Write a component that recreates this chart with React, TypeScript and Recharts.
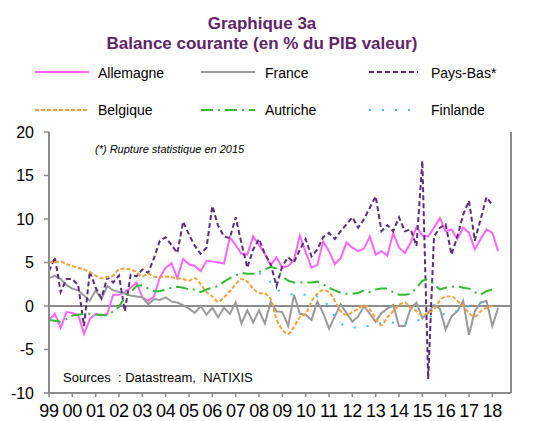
import { LineChart, Line, XAxis, YAxis, ReferenceLine } from "recharts"

// tick labels (one per year, quarterly data)
const years = ["99", "00", "01", "02", "03", "04", "05", "06", "07", "08", "09", "10", "11", "12", "13", "14", "15", "16", "17", "18"]

const allemagne = [
  -1.6, -0.9, -2.5, -0.7, -0.8, -1.0, -3.2, -1.5, -0.9, -1.1,
  -0.9, 1.3, 1.3, 1.6, 2.1, 2.7, 1.0, 0.6, 1.1, 3.3,
  4.4, 4.9, 3.2, 5.4, 4.8, 4.6, 4.0, 5.2, 5.1, 5.0,
  4.9, 7.9, 7.0, 6.0, 5.9, 8.0, 7.0, 6.0, 4.7, 5.6,
  4.4, 4.6, 5.3, 8.1, 6.2, 4.4, 4.7, 7.4, 6.3, 4.8,
  5.5, 7.3, 6.7, 6.3, 6.6, 8.0, 5.9, 6.3, 5.8, 8.4,
  6.7, 6.1, 7.3, 9.1, 8.1, 8.0, 9.0, 10.1, 8.6, 8.8,
  7.7, 9.0, 8.4, 6.5, 7.7, 8.8, 8.4, 6.3,
]

const france = [
  3.2, 3.5, 3.1, 2.4, 2.0, 1.8, 1.2, 0.6, 1.8, 0.8,
  2.3, 1.8, 1.6, 1.4, 1.2, 1.1, 1.0, 0.2, 0.8, 0.7,
  1.0, 0.5, 0.4, 0.1, -0.3, -0.8, 0.0, -1.0, -0.2, -1.3,
  -0.2, -0.9, 0.4, -2.0, -0.5, -1.9, -0.5, -2.0, 0.5, -0.6,
  -0.7, -2.3, 1.3, -0.9, -1.0, -1.6, 0.5, -0.8, -2.6, -1.2,
  0.2, -0.8, -1.8, -1.2, 0.0, -0.9, -1.8, -0.8, -0.3, 0.1,
  -2.3, -2.3, -0.3, 0.4, -1.4, -0.8, 0.1, -0.3, -2.7, -1.2,
  -0.6, 0.6, -3.3, -0.6, 0.4, 0.6, -2.3, -0.2,
]

const paysBas = [
  4.0, 5.6, 1.6, 3.1, 3.1, 2.4, -2.3, 4.0, 2.1, 0.9,
  3.3, 2.7, 3.5, -0.6, 3.6, 3.4, 4.2, 3.8, 5.5, 7.5,
  7.9, 7.0, 6.1, 9.7, 8.2, 6.9, 6.0, 6.7, 11.5, 9.2,
  8.0, 7.8, 10.2, 7.2, 4.4, 6.5, 7.7, 6.0, 4.8, 2.3,
  4.6, 5.6, 5.0, 6.5, 7.7, 5.7, 6.5, 7.9, 8.4, 7.7,
  8.6, 9.4, 10.2, 9.0, 10.0, 11.3, 12.6, 8.6, 9.3, 8.6,
  10.2, 8.6, 8.8, 6.9, 16.7, -8.4, 8.0, 9.0, 9.4, 5.9,
  8.0, 10.5, 12.1, 7.5, 10.0, 12.5, 11.6, null,
]

const belgique = [
  5.0, 5.1, 5.1, 4.8, 4.6, 4.4, 4.2, 3.9, 3.5, 3.2,
  3.3, 3.5, 4.2, 4.3, 4.2, 3.9, 3.4, 3.7, 3.4, 3.3,
  3.4, 3.3, 3.2, 3.1, 2.9, 3.2, 2.5, 1.6, 1.1, 0.5,
  1.0, 1.7, 2.5, 3.1, 2.8, 2.0, 1.5, 1.4, 0.8, -1.5,
  -2.7, -3.2, -2.4, -1.3, -0.9, 0.5, 1.4, 1.8, 1.6, 0.6,
  -0.6, -1.0, -0.7, -0.3, 0.1, -0.4, -1.4, -2.2, -1.3, -0.6,
  0.1, 0.4, -0.2, -0.6, -1.1, -0.8, -0.4, 0.6, 1.1, 1.1,
  0.6, 0.0, -0.8, -1.2, -0.6, -0.2, 0.0, null,
]

const autriche = [
  -1.6, -1.7, -1.8, -1.5, -1.1, -1.0, -0.9, -0.9, -1.0, -1.0,
  -1.1, -0.6, -0.1, 1.0, 1.6, 2.3, 2.4, 2.0, 1.7, 1.7,
  1.9, 2.1, 2.2, 2.1, 1.9, 1.9, 1.6, 1.9, 2.1, 2.3,
  2.8, 3.2, 3.5, 3.8, 3.7, 3.7, 3.9, 4.2, 4.5, 4.3,
  3.4, 2.9, 2.7, 2.7, 2.7, 2.7, 2.8, 2.5, 2.1, 1.8,
  1.5, 1.4, 1.4, 1.5, 1.8, 1.6, 1.9, 2.0, 2.0, 1.6,
  1.3, 1.3, 1.4, 2.1, 2.9, 3.1, 2.5, 1.9, 2.1, 2.2,
  2.3, 2.1, 2.0, 1.6, 1.3, 1.7, 1.9, null,
]

const finlande = [
  null, null, null, null, null, null, null, null, null, null,
  null, null, null, null, null, null, null, null, null, null,
  null, null, null, null, null, null, null, null, null, null,
  null, null, null, null, null, null, 3.8, 3.3, 2.7, 1.9,
  1.6, 1.4, 1.3, 1.3, 1.3, 1.3, 1.1, 0.9, -0.2, -1.2,
  -2.0, -2.4, -2.5, -2.4, -2.3, -2.3, -2.2, -1.9, -1.9, -1.9,
  -1.9, -2.0, -1.9, -1.7, -1.5, -1.3, -1.1, -1.0, -0.9, -0.7,
  -0.6, -0.3, 0.0, 0.2, 0.4, 0.5, 0.4, null,
]

const yTicks = [-10, -5, 0, 5, 10, 15, 20]

const data = allemagne.map((v, i) => ({
  q: i,
  allemagne: v,
  france: france[i],
  paysBas: paysBas[i],
  belgique: belgique[i],
  autriche: autriche[i],
  finlande: finlande[i],
}))

const xTicks = years.map((_, i) => i * 4)

const FONT = '"Liberation Sans", Arial, sans-serif'
const AXIS = "#8c8c8c"

const series = [
  { key: "allemagne", name: "Allemagne", color: "#ff66ff", dash: undefined, type: "linear" },
  { key: "france", name: "France", color: "#9a9a9a", dash: undefined, type: "linear" },
  { key: "paysBas", name: "Pays-Bas*", color: "#5c2d7a", dash: "5 3", type: "linear" },
  { key: "belgique", name: "Belgique", color: "#f7a13c", dash: "4 2", type: "monotone" },
  { key: "autriche", name: "Autriche", color: "#33bb33", dash: "12 5 2 5", type: "linear" },
  { key: "finlande", name: "Finlande", color: "#33c3f5", dash: "2 11", type: "linear" },
] as const

// legend slots: [line x start, line x end, text x, row center y, text top]
const legendPos = [
  [35, 89, 98, 72, 64.5],
  [201, 255, 265, 72, 64.5],
  [369, 418, 431, 72, 64.5],
  [35, 89, 98, 110, 101.5],
  [201, 255, 265, 110, 101.5],
  [369, 418, 431, 110, 101.5],
]

export default function App() {
  return (
    <div style={{ position: "absolute", left: 0, top: 0, width: 552, height: 421, background: "#fff", fontFamily: FONT }}>
      <LineChart
        width={552}
        height={421}
        data={data}
        margin={{ top: 132, right: 0, bottom: 0, left: 0 }}
      >
        <XAxis
          dataKey="q"
          type="number"
          domain={[0, 79.2]}
          ticks={xTicks}
          tickFormatter={(v) => years[Math.round(v / 4)]}
          height={28}
          tickSize={4}
          tickMargin={7}
          interval={0}
          axisLine={{ stroke: AXIS, strokeWidth: 2 }}
          tickLine={{ stroke: AXIS, strokeWidth: 1.5 }}
          tick={{ fill: "#000", fontSize: 18, fontFamily: FONT, letterSpacing: -0.3 }}
        />
        <YAxis
          yAxisId="left"
          orientation="left"
          type="number"
          domain={[-10, 20]}
          ticks={yTicks}
          width={49}
          tickSize={5}
          tickMargin={10}
          interval={0}
          axisLine={{ stroke: AXIS, strokeWidth: 2 }}
          tickLine={{ stroke: AXIS, strokeWidth: 1.5 }}
          tick={{ fill: "#000", fontSize: 16, fontFamily: FONT }}
        />
        <YAxis
          yAxisId="right"
          orientation="right"
          type="number"
          domain={[-10, 20]}
          ticks={yTicks}
          width={41}
          tickSize={5}
          tickMargin={9}
          interval={0}
          axisLine={{ stroke: AXIS, strokeWidth: 2 }}
          tickLine={{ stroke: AXIS, strokeWidth: 1.5 }}
          tick={{ fill: "#000", fontSize: 16, fontFamily: FONT, textAnchor: "start" }}
        />
        <ReferenceLine yAxisId="left" y={0} stroke={AXIS} strokeWidth={2} />
        {series.map((s) => (
          <Line
            key={s.key}
            yAxisId="left"
            type={s.type}
            dataKey={s.key}
            stroke={s.color}
            strokeWidth={2}
            strokeDasharray={s.dash}
            dot={false}
            activeDot={false}
            connectNulls={false}
            isAnimationActive={false}
          />
        ))}
      </LineChart>

      <div
        style={{
          position: "absolute",
          left: 0,
          top: 13.5,
          width: 524,
          textAlign: "center",
          color: "#5f2569",
          fontWeight: "bold",
          fontSize: 17,
          lineHeight: "20.7px",
        }}
      >
        <div>Graphique 3a</div>
        <div>Balance courante (en % du PIB valeur)</div>
      </div>

      {series.map((s, i) => {
        const [x1, x2, tx, cy, ty] = legendPos[i]
        return (
          <div key={s.key}>
            <svg style={{ position: "absolute", left: 0, top: 0 }} width={552} height={130}>
              <line x1={x1} x2={x2} y1={cy} y2={cy} stroke={s.color} strokeWidth={2} strokeDasharray={s.dash} />
            </svg>
            <div style={{ position: "absolute", left: tx, top: ty, fontSize: 14, lineHeight: "16px", color: "#000", whiteSpace: "nowrap" }}>
              {s.name}
            </div>
          </div>
        )
      })}

      <div style={{ position: "absolute", left: 95, top: 143, fontSize: 11, fontStyle: "italic", lineHeight: "13px", color: "#000", whiteSpace: "nowrap" }}>
        (*) Rupture statistique en 2015
      </div>
      <div style={{ position: "absolute", left: 63, top: 370, fontSize: 13, lineHeight: "15px", color: "#000", whiteSpace: "pre" }}>
        Sources  : Datastream,  NATIXIS
      </div>
    </div>
  )
}
